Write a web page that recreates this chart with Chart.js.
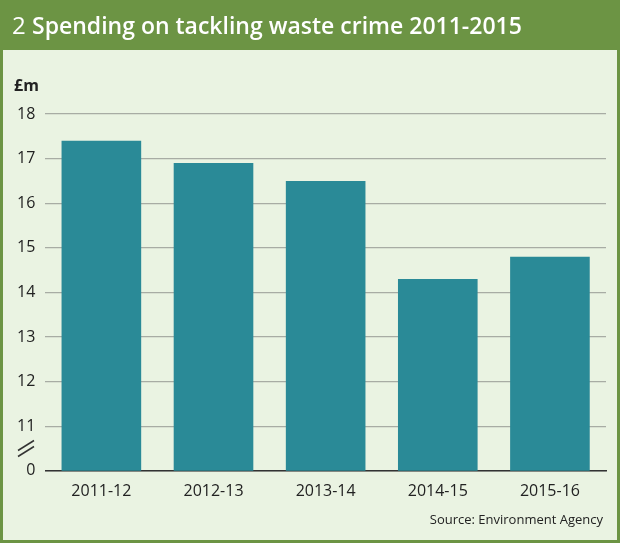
<!DOCTYPE html>
<html>
<head>
<meta charset="utf-8">
<script src="https://cdn.jsdelivr.net/npm/chart.js@4/dist/chart.umd.min.js"></script>
<style>
  body { margin: 0; background: #fff; }
  canvas { display: block; }
</style>
</head>
<body>
<canvas id="chart" width="620" height="543"></canvas>
<script>
// Spending on tackling waste crime, £m
const years = ['2011-12', '2012-13', '2013-14', '2014-15', '2015-16'];
const spending = [17.4, 16.9, 16.5, 14.3, 14.8];
const yTicks = [10, 11, 12, 13, 14, 15, 16, 17, 18]; // 10 is drawn as the broken "0"

const green = '#6c9444';
const panel = '#eaf3e2';

const framePlugin = {
    id: 'frame',
    beforeDraw(chart) {
        const c = chart.ctx;
        c.save();
        c.fillStyle = panel;
        c.fillRect(0, 0, chart.width, chart.height);
        c.fillStyle = green;
        c.fillRect(0, 0, chart.width, 50);
        c.strokeStyle = green;
        c.lineWidth = 3;
        c.strokeRect(1.5, 1.5, chart.width - 3, chart.height - 3);
        c.fillStyle = '#fff';
        c.textBaseline = 'middle';
        c.font = '24px "Open Sans", sans-serif';
        c.fillText('2', 12, 27);
        c.font = '600 23px "Open Sans", sans-serif';
        c.fillText('Spending on tackling waste crime 2011-2015', 32, 27);
        c.fillStyle = '#222';
        c.font = 'bold 16px "Open Sans", sans-serif';
        c.fillText('£m', 14, 86);
        c.font = '13px "Open Sans", sans-serif';
        c.textAlign = 'right';
        c.fillText('Source: Environment Agency', 603, 520);
        c.restore();
    },
    afterDraw(chart) {
        const c = chart.ctx;
        const y = chart.scales.y.getPixelForValue(10.5);
        c.save();
        c.strokeStyle = '#333';
        c.lineWidth = 1.5;
        [-3, 3].forEach(d => {
            c.beginPath();
            c.moveTo(18, y + d + 5);
            c.lineTo(34, y + d - 5);
            c.stroke();
        });
        c.restore();
    }
};

new Chart(document.getElementById('chart'), {
    type: 'bar',
    data: {
        labels: years,
        datasets: [{
            data: spending,
            backgroundColor: '#2a8a97',
            barPercentage: 0.71,
            categoryPercentage: 1
        }]
    },
    options: {
        responsive: false,
        animation: false,
        layout: { padding: { top: 114, left: 7, right: 14, bottom: 39 } },
        plugins: { legend: { display: false }, tooltip: { enabled: false } },
        scales: {
            x: {
                grid: { display: false },
                border: { color: '#333', width: 1.5 },
                ticks: { color: '#222', font: { size: 16, family: '"Open Sans", sans-serif' } }
            },
            y: {
                min: 10,
                max: 18,
                afterBuildTicks: axis => { axis.ticks = yTicks.map(v => ({ value: v })); },
                grid: { color: '#a8aca4', lineWidth: 1.2, drawTicks: false },
                border: { display: false },
                ticks: {
                    color: '#222',
                    padding: 10,
                    font: { size: 16, family: '"Open Sans", sans-serif' },
                    callback: v => v === 10 ? '0' : v
                }
            }
        }
    },
    plugins: [framePlugin]
});
</script>
</body>
</html>
